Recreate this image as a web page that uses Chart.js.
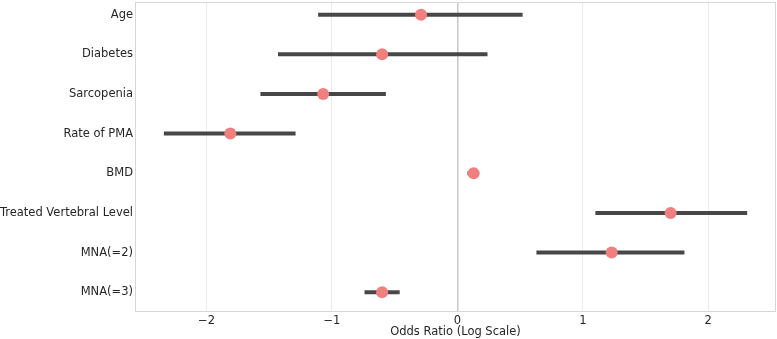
<!DOCTYPE html>
<html>
<head>
<meta charset="utf-8">
<script src="https://cdn.jsdelivr.net/npm/chart.js@4"></script>
<style>
  html, body { margin: 0; padding: 0; background: #fff; }
  #wrap { width: 777px; height: 339px; }
</style>
</head>
<body>
<div id="wrap"><canvas id="forest"></canvas></div>
<script>
// Data (log odds ratio with 95% CI)
const categories = ['Age', 'Diabetes', 'Sarcopenia', 'Rate of PMA', 'BMD', 'Treated Vertebral Level', 'MNA(=2)', 'MNA(=3)'];
const estimates = [-0.29, -0.60, -1.07, -1.81, 0.13, 1.70, 1.23, -0.60];
const lowerCI = [-1.11, -1.43, -1.57, -2.34, 0.08, 1.10, 0.63, -0.74];
const upperCI = [0.52, 0.24, -0.57, -1.29, 0.17, 2.31, 1.81, -0.46];
const xTicks = [-2, -1, 0, 1, 2];

const textColor = '#262626';
const font = { family: 'DejaVu Sans', size: 11.5 };

// dots first so they sit on top of the bars
const datasets = [{
    type: 'scatter',
    data: estimates.map((v, i) => ({ x: v, y: i })),
    backgroundColor: '#F08080',
    pointRadius: 6,
    pointBorderWidth: 0
}];

categories.forEach((c, i) => {
    datasets.push({
        type: 'line',
        data: [{ x: lowerCI[i], y: i }, { x: upperCI[i], y: i }],
        borderColor: '#474747',
        borderWidth: 4,
        pointRadius: 0,
        borderCapStyle: 'butt'
    });
});

// frame round the plot area
const frame = {
    id: 'frame',
    afterDraw(chart) {
        const a = chart.chartArea;
        const ctx = chart.ctx;
        ctx.save();
        ctx.strokeStyle = '#d6d6d6';
        ctx.lineWidth = 1;
        ctx.strokeRect(a.left + 0.5, a.top + 0.5, a.right - a.left - 1, a.bottom - a.top - 1);
        ctx.restore();
    }
};

new Chart(document.getElementById('forest'), {
    type: 'scatter',
    data: { datasets: datasets },
    plugins: [frame],
    options: {
        responsive: true,
        maintainAspectRatio: false,
        animation: false,
        layout: { autoPadding: false, padding: { top: 2, right: 1, left: 0, bottom: 0 } },
        plugins: { legend: { display: false }, tooltip: { enabled: false } },
        scales: {
            x: {
                type: 'linear',
                min: -2.57,
                max: 2.54,
                afterBuildTicks: s => { s.ticks = xTicks.map(v => ({ value: v })); },
                afterFit: s => { s.height = 27; s.paddingLeft = 0; s.paddingRight = 0; },
                ticks: {
                    color: textColor,
                    font: font,
                    padding: 2,
                    callback: v => (v < 0 ? '\u2212' + Math.abs(v) : String(v))
                },
                grid: {
                    drawTicks: false,
                    color: ctx => (ctx.tick && ctx.tick.value === 0 ? '#c8c8c8' : '#ececec'),
                    lineWidth: ctx => (ctx.tick && ctx.tick.value === 0 ? 1.5 : 1)
                },
                border: { display: false },
                title: {
                    display: true,
                    text: 'Odds Ratio (Log Scale)',
                    color: textColor,
                    font: font,
                    padding: { top: 0, bottom: 0 }
                }
            },
            y: {
                type: 'linear',
                reverse: true,
                min: -0.32,
                max: 7.5,
                afterBuildTicks: s => { s.ticks = categories.map((c, i) => ({ value: i })); },
                afterFit: s => { s.width = 135; s.paddingTop = 0; s.paddingBottom = 0; },
                ticks: {
                    color: textColor,
                    font: font,
                    padding: 2,
                    callback: v => categories[v]
                },
                grid: { display: false, drawTicks: false },
                border: { display: false }
            }
        }
    }
});
</script>
</body>
</html>
